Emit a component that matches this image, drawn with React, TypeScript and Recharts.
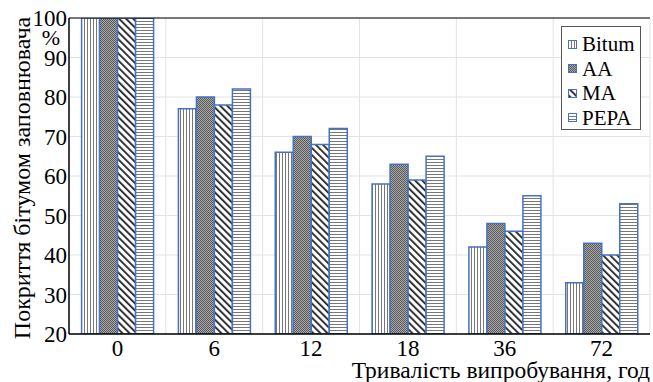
import React from "react";
import {
  BarChart,
  Bar,
  XAxis,
  YAxis,
  CartesianGrid,
  ReferenceLine,
} from "recharts";

// hours of testing
const hours = ["0", "6", "12", "18", "36", "72"];

// bitumen coverage of aggregate, %
const bitum = [100, 77, 66, 58, 42, 33];
const aa = [100, 80, 70, 63, 48, 43];
const ma = [100, 78, 68, 59, 46, 40];
const pepa = [100, 82, 72, 65, 55, 53];

const yTicks = [20, 30, 40, 50, 60, 70, 80, 90, 100];

const series = [
  { key: "Bitum", values: bitum, fill: "url(#pBitum)" },
  { key: "AA", values: aa, fill: "url(#pAA)" },
  { key: "MA", values: ma, fill: "url(#pMA)" },
  { key: "PEPA", values: pepa, fill: "url(#pPEPA)" },
];

const data = hours.map((h, i) => {
  const row: Record<string, string | number> = { hour: h };
  series.forEach((s) => {
    row[s.key] = s.values[i];
  });
  return row;
});

const FONT = "Liberation Serif";
const BLUE = "#4472c4";

function Patterns() {
  return (
    <svg width={0} height={0} style={{ position: "absolute" }}>
      <defs>
        <pattern id="pBitum" width={3} height={4} patternUnits="userSpaceOnUse">
          <rect width={3} height={4} fill="#fff" />
          <rect x={0} width={1} height={4} fill="#777" />
        </pattern>
        <pattern id="pAA" width={2} height={2} patternUnits="userSpaceOnUse">
          <rect width={2} height={2} fill="#a8a8a8" />
          <rect x={0} y={0} width={1} height={1} fill="#5a5a5a" />
          <rect x={1} y={1} width={1} height={1} fill="#5a5a5a" />
        </pattern>
        <pattern
          id="pMA"
          width={5}
          height={5}
          patternUnits="userSpaceOnUse"
          patternTransform="rotate(-45)"
        >
          <rect width={5} height={5} fill="#fff" />
          <rect x={0} width={1.8} height={5} fill="#222" />
        </pattern>
        <pattern id="pPEPA" width={4} height={3} patternUnits="userSpaceOnUse">
          <rect width={4} height={3} fill="#fff" />
          <rect y={0} width={4} height={1} fill="#777" />
        </pattern>
      </defs>
    </svg>
  );
}

function LegendBox() {
  return (
    <div
      style={{
        position: "absolute",
        left: 561,
        top: 26,
        border: "1px solid #555",
        background: "#fff",
        width: 80,
        height: 104,
        boxSizing: "border-box",
        padding: "5px 0 0 6px",
        fontFamily: FONT,
        fontSize: 21,
        lineHeight: "24.5px",
        color: "#000",
      }}
    >
      {series.map((s) => (
        <div key={s.key} style={{ display: "flex", alignItems: "center" }}>
          <svg width={9} height={9} style={{ marginRight: 5 }}>
            <rect x={0.5} y={0.5} width={8} height={8} fill={s.fill} stroke={BLUE} strokeWidth={1} />
          </svg>
          {s.key}
        </div>
      ))}
    </div>
  );
}

export default function App() {
  return (
    <div
      style={{
        position: "absolute",
        left: 0,
        top: 0,
        width: 653,
        height: 382,
        background: "#fff",
        fontFamily: FONT,
      }}
    >
      <Patterns />
      <BarChart
        width={653}
        height={382}
        data={data}
        margin={{ top: 18, right: 3, left: 0, bottom: 0 }}
        barCategoryGap="13%"
        barGap={0}
        style={{ fontFamily: FONT }}
      >
        <CartesianGrid
          stroke="#e3e3e3"
          verticalCoordinatesGenerator={({ offset }: any) =>
            hours.map((_, i) => offset.left + ((i + 1) * offset.width) / hours.length)
          }
        />
        <XAxis
          dataKey="hour"
          height={48}
          tickLine={false}
          tickSize={0}
          tickMargin={6}
          axisLine={{ stroke: "#000", strokeWidth: 1.5 }}
          tick={{ fontSize: 23, fill: "#000", style: { fontFamily: FONT } }}
          label={{
            content: () => (
              <text x={650} y={378} textAnchor="end" style={{ fontFamily: FONT }} fontSize={23.5} fill="#000">
                Тривалість випробування, год
              </text>
            ),
          }}
        />
        <YAxis
          width={69}
          domain={[20, 100]}
          ticks={yTicks}
          interval={0}
          allowDataOverflow
          tickLine={false}
          tickSize={0}
          tickMargin={2}
          axisLine={{ stroke: "#000", strokeWidth: 1.5 }}
          tick={{ fontSize: 23, fill: "#000", style: { fontFamily: FONT } }}
          label={{
            content: () => (
              <g style={{ fontFamily: FONT }}>
                <text
                  x={0}
                  y={0}
                  transform="translate(30 178) rotate(-90)"
                  textAnchor="middle"
                  fontSize={24}
                  fill="#000"
                >
                  Покриття бітумом заповнювача
                </text>
                <text x={51} y={45} textAnchor="middle" fontSize={22} fill="#000">
                  %
                </text>
              </g>
            ),
          }}
        />
        <ReferenceLine y={100} stroke="#000" strokeWidth={1.2} />
        {series.map((s) => (
          <Bar
            key={s.key}
            dataKey={s.key}
            fill={s.fill}
            stroke={BLUE}
            strokeWidth={1.5}
            isAnimationActive={false}
          />
        ))}
      </BarChart>
      <LegendBox />
    </div>
  );
}
